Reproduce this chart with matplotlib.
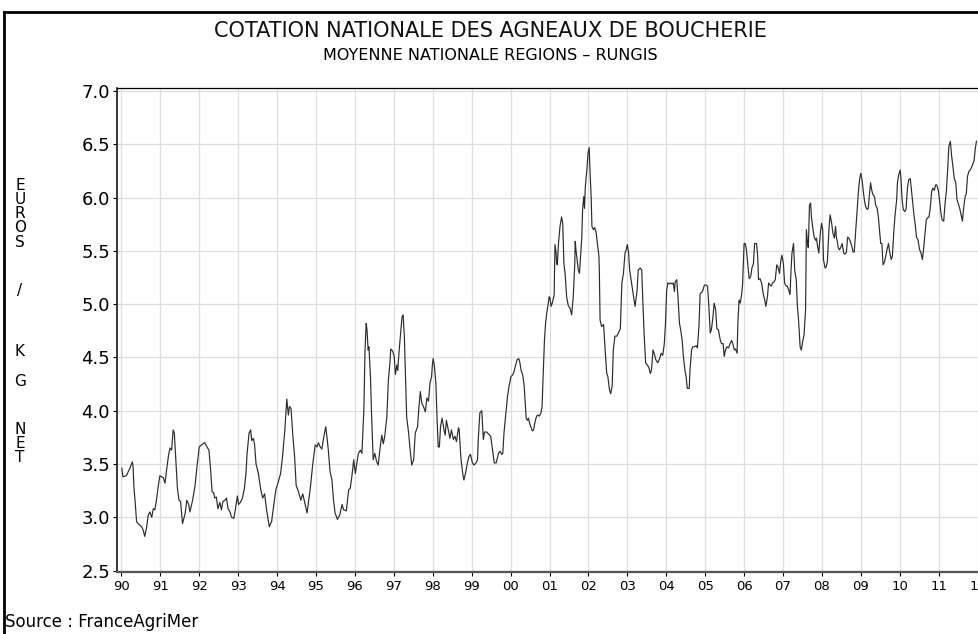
import matplotlib
matplotlib.use("Agg")
import matplotlib.pyplot as plt
from matplotlib.lines import Line2D

# weekly national quotation: decimal year -> EUR / kg net
dates = [
    1990.01, 1990.04, 1990.13, 1990.19, 1990.22, 1990.26, 1990.28, 1990.30, 1990.32, 1990.35,
    1990.39, 1990.43, 1990.52, 1990.56, 1990.60, 1990.65, 1990.69, 1990.73, 1990.78, 1990.82,
    1990.86, 1990.90, 1990.95, 1990.99, 1991.03, 1991.08, 1991.12, 1991.16, 1991.21, 1991.25,
    1991.29, 1991.33, 1991.36, 1991.39, 1991.44, 1991.48, 1991.52, 1991.57, 1991.64, 1991.68,
    1991.73, 1991.76, 1991.83, 1991.89, 1991.95, 1992.00, 1992.06, 1992.14, 1992.20, 1992.25,
    1992.30, 1992.33, 1992.37, 1992.40, 1992.44, 1992.48, 1992.53, 1992.57, 1992.61, 1992.66,
    1992.70, 1992.74, 1992.79, 1992.83, 1992.89, 1992.94, 1992.98, 1993.01, 1993.06, 1993.11,
    1993.16, 1993.20, 1993.23, 1993.28, 1993.32, 1993.35, 1993.39, 1993.42, 1993.46, 1993.52,
    1993.58, 1993.63, 1993.68, 1993.73, 1993.80, 1993.86, 1993.92, 1993.97, 1994.03, 1994.09,
    1994.14, 1994.20, 1994.25, 1994.29, 1994.32, 1994.36, 1994.40, 1994.45, 1994.49, 1994.55,
    1994.61, 1994.66, 1994.72, 1994.77, 1994.85, 1994.92, 1994.98, 1995.03, 1995.06, 1995.11,
    1995.15, 1995.19, 1995.25, 1995.28, 1995.32, 1995.36, 1995.41, 1995.45, 1995.49, 1995.55,
    1995.61, 1995.67, 1995.71, 1995.78, 1995.84, 1995.88, 1995.92, 1995.97, 1996.01, 1996.05,
    1996.09, 1996.14, 1996.18, 1996.23, 1996.26, 1996.29, 1996.31, 1996.34, 1996.36, 1996.40,
    1996.43, 1996.47, 1996.51, 1996.56, 1996.60, 1996.64, 1996.69, 1996.73, 1996.77, 1996.82,
    1996.86, 1996.90, 1996.92, 1996.97, 1997.01, 1997.04, 1997.08, 1997.10, 1997.14, 1997.19,
    1997.21, 1997.24, 1997.27, 1997.30, 1997.33, 1997.38, 1997.42, 1997.46, 1997.51, 1997.55,
    1997.61, 1997.64, 1997.68, 1997.72, 1997.76, 1997.81, 1997.85, 1997.89, 1997.93, 1997.97,
    1997.99, 1998.01, 1998.04, 1998.08, 1998.11, 1998.14, 1998.17, 1998.20, 1998.24, 1998.29,
    1998.32, 1998.35, 1998.40, 1998.44, 1998.48, 1998.53, 1998.57, 1998.61, 1998.66, 1998.68,
    1998.72, 1998.77, 1998.80, 1998.84, 1998.89, 1998.93, 1998.97, 1999.02, 1999.06, 1999.11,
    1999.15, 1999.17, 1999.21, 1999.26, 1999.30, 1999.33, 1999.39, 1999.46, 1999.49, 1999.53,
    1999.58, 1999.63, 1999.69, 1999.73, 1999.77, 1999.80, 1999.83, 1999.88, 1999.92, 1999.96,
    2000.01, 2000.06, 2000.09, 2000.13, 2000.17, 2000.21, 2000.24, 2000.27, 2000.31, 2000.35,
    2000.38, 2000.40, 2000.43, 2000.46, 2000.49, 2000.52, 2000.56, 2000.59, 2000.62, 2000.66,
    2000.69, 2000.74, 2000.78, 2000.81, 2000.83, 2000.87, 2000.90, 2000.93, 2000.97, 2000.99,
    2001.01, 2001.04, 2001.07, 2001.09, 2001.12, 2001.14, 2001.17, 2001.18, 2001.20, 2001.23,
    2001.27, 2001.31, 2001.34, 2001.37, 2001.40, 2001.44, 2001.48, 2001.53, 2001.57, 2001.61,
    2001.65, 2001.66, 2001.68, 2001.72, 2001.74, 2001.77, 2001.81, 2001.83, 2001.85, 2001.88,
    2001.90, 2001.92, 2001.96, 2001.99, 2002.02, 2002.04, 2002.07, 2002.09, 2002.13, 2002.16,
    2002.20, 2002.23, 2002.27, 2002.28, 2002.30, 2002.34, 2002.39, 2002.43, 2002.47, 2002.50,
    2002.54, 2002.57, 2002.61, 2002.64, 2002.68, 2002.73, 2002.77, 2002.82, 2002.86, 2002.90,
    2002.94, 2002.97, 2003.00, 2003.03, 2003.06, 2003.12, 2003.16, 2003.20, 2003.25, 2003.28,
    2003.33, 2003.37, 2003.40, 2003.43, 2003.47, 2003.51, 2003.55, 2003.59, 2003.62, 2003.66,
    2003.69, 2003.73, 2003.78, 2003.82, 2003.87, 2003.91, 2003.95, 2003.98, 2004.01, 2004.04,
    2004.08, 2004.11, 2004.15, 2004.18, 2004.21, 2004.23, 2004.27, 2004.30, 2004.34, 2004.37,
    2004.41, 2004.44, 2004.48, 2004.51, 2004.54, 2004.59, 2004.61, 2004.65, 2004.68, 2004.72,
    2004.77, 2004.80, 2004.84, 2004.87, 2004.91, 2004.94, 2004.98, 2005.02, 2005.06, 2005.09,
    2005.13, 2005.16, 2005.20, 2005.23, 2005.27, 2005.30, 2005.34, 2005.39, 2005.42, 2005.46,
    2005.49, 2005.52, 2005.56, 2005.60, 2005.64, 2005.68, 2005.71, 2005.75, 2005.78, 2005.82,
    2005.84, 2005.87, 2005.90, 2005.94, 2005.96, 2006.00, 2006.03, 2006.06, 2006.10, 2006.13,
    2006.17, 2006.20, 2006.24, 2006.27, 2006.32, 2006.35, 2006.37, 2006.41, 2006.45, 2006.49,
    2006.53, 2006.56, 2006.60, 2006.63, 2006.67, 2006.70, 2006.73, 2006.77, 2006.80, 2006.84,
    2006.87, 2006.91, 2006.94, 2006.97, 2007.01, 2007.04, 2007.08, 2007.11, 2007.15, 2007.18,
    2007.21, 2007.23, 2007.27, 2007.30, 2007.34, 2007.37, 2007.40, 2007.44, 2007.47, 2007.51,
    2007.54, 2007.58, 2007.60, 2007.63, 2007.65, 2007.68, 2007.71, 2007.73, 2007.76, 2007.80,
    2007.84, 2007.86, 2007.89, 2007.92, 2007.96, 2007.99, 2008.02, 2008.04, 2008.08, 2008.11,
    2008.14, 2008.18, 2008.21, 2008.25, 2008.28, 2008.32, 2008.35, 2008.37, 2008.39, 2008.42,
    2008.45, 2008.49, 2008.52, 2008.56, 2008.59, 2008.63, 2008.66, 2008.69, 2008.73, 2008.77,
    2008.80, 2008.83, 2008.87, 2008.90, 2008.94, 2008.97, 2009.00, 2009.03, 2009.06, 2009.09,
    2009.12, 2009.16, 2009.19, 2009.23, 2009.25, 2009.28, 2009.31, 2009.35, 2009.38, 2009.42,
    2009.45, 2009.48, 2009.51, 2009.54, 2009.57, 2009.61, 2009.64, 2009.67, 2009.71, 2009.74,
    2009.78, 2009.81, 2009.85, 2009.88, 2009.92, 2009.94, 2009.97, 2010.01, 2010.03, 2010.06,
    2010.09, 2010.13, 2010.16, 2010.20, 2010.23, 2010.27, 2010.30, 2010.33, 2010.37, 2010.40,
    2010.43, 2010.47, 2010.51, 2010.54, 2010.58, 2010.61, 2010.65, 2010.68, 2010.71, 2010.75,
    2010.78, 2010.82, 2010.85, 2010.89, 2010.92, 2010.95, 2010.99, 2011.02, 2011.06, 2011.09,
    2011.13, 2011.16, 2011.20, 2011.23, 2011.26, 2011.30, 2011.33, 2011.37, 2011.40, 2011.44,
    2011.47, 2011.50, 2011.54, 2011.57, 2011.61, 2011.64, 2011.68, 2011.71, 2011.74, 2011.78,
    2011.81, 2011.85, 2011.88, 2011.91, 2011.94, 2011.97,
]
prices = [
    3.46, 3.38, 3.39, 3.44, 3.46, 3.50, 3.52, 3.48, 3.29, 3.16,
    2.96, 2.94, 2.91, 2.88, 2.82, 2.91, 3.02, 3.05, 3.00, 3.08,
    3.07, 3.16, 3.30, 3.39, 3.38, 3.37, 3.32, 3.44, 3.58, 3.65,
    3.63, 3.82, 3.79, 3.60, 3.27, 3.16, 3.15, 2.94, 3.04, 3.16,
    3.12, 3.05, 3.16, 3.29, 3.50, 3.66, 3.68, 3.70, 3.66, 3.63,
    3.41, 3.24, 3.23, 3.18, 3.19, 3.08, 3.14, 3.07, 3.15, 3.16,
    3.18, 3.08, 3.05, 3.00, 2.99, 3.10, 3.20, 3.12, 3.14, 3.18,
    3.27, 3.41, 3.60, 3.79, 3.82, 3.72, 3.74, 3.69, 3.50, 3.41,
    3.26, 3.18, 3.22, 3.07, 2.91, 2.96, 3.13, 3.26, 3.33, 3.41,
    3.57, 3.82, 4.11, 3.96, 4.04, 4.02, 3.79, 3.57, 3.30, 3.24,
    3.16, 3.22, 3.12, 3.04, 3.26, 3.51, 3.68, 3.66, 3.70, 3.66,
    3.64, 3.73, 3.85, 3.76, 3.62, 3.43, 3.35, 3.16, 3.04, 2.98,
    3.02, 3.12, 3.07, 3.06, 3.26, 3.27, 3.38, 3.54, 3.41, 3.51,
    3.60, 3.63, 3.60, 4.01, 4.57, 4.82, 4.76, 4.57, 4.60, 4.32,
    3.94, 3.54, 3.60, 3.52, 3.49, 3.63, 3.77, 3.69, 3.77, 3.94,
    4.29, 4.45, 4.58, 4.56, 4.51, 4.34, 4.43, 4.38, 4.58, 4.79,
    4.88, 4.90, 4.70, 4.32, 3.94, 3.79, 3.63, 3.49, 3.54, 3.79,
    3.85, 4.01, 4.18, 4.07, 4.04, 3.99, 4.12, 4.09, 4.26, 4.32,
    4.43, 4.49, 4.43, 4.26, 3.94, 3.66, 3.66, 3.85, 3.93, 3.82,
    3.77, 3.91, 3.82, 3.74, 3.82, 3.73, 3.76, 3.71, 3.84, 3.82,
    3.57, 3.41, 3.35, 3.41, 3.51, 3.57, 3.59, 3.51, 3.49, 3.51,
    3.54, 3.73, 3.98, 4.00, 3.73, 3.80, 3.80, 3.77, 3.76, 3.65,
    3.51, 3.51, 3.60, 3.62, 3.59, 3.60, 3.79, 3.98, 4.13, 4.23,
    4.32, 4.34, 4.37, 4.43, 4.48, 4.49, 4.45, 4.38, 4.34, 4.23,
    4.04, 3.93, 3.91, 3.93, 3.88, 3.85, 3.81, 3.82, 3.88, 3.94,
    3.96, 3.95, 3.98, 4.04, 4.26, 4.66, 4.82, 4.92, 5.01, 5.07,
    5.06, 4.98, 5.01, 5.04, 5.09, 5.56, 5.48, 5.40, 5.37, 5.57,
    5.73, 5.82, 5.76, 5.38, 5.29, 5.07, 4.99, 4.96, 4.90, 5.07,
    5.38, 5.59, 5.51, 5.38, 5.32, 5.29, 5.51, 5.63, 5.89, 6.01,
    5.90, 6.10, 6.26, 6.42, 6.47, 6.26, 6.01, 5.73, 5.70, 5.72,
    5.67, 5.57, 5.45, 5.32, 4.85, 4.79, 4.81, 4.57, 4.35, 4.32,
    4.20, 4.16, 4.23, 4.57, 4.70, 4.70, 4.73, 4.77, 5.20, 5.29,
    5.48, 5.51, 5.56, 5.49, 5.32, 5.17, 5.07, 4.98, 5.13, 5.32,
    5.34, 5.32, 5.01, 4.73, 4.45, 4.43, 4.41, 4.35, 4.38, 4.57,
    4.54, 4.48, 4.45, 4.48, 4.54, 4.52, 4.63, 4.82, 5.13, 5.20,
    5.19, 5.20, 5.19, 5.20, 5.12, 5.21, 5.23, 5.07, 4.82, 4.76,
    4.66, 4.51, 4.38, 4.32, 4.21, 4.21, 4.38, 4.57, 4.60, 4.60,
    4.61, 4.59, 4.79, 5.10, 5.11, 5.13, 5.18, 5.18, 5.17, 5.01,
    4.73, 4.76, 4.88, 5.01, 4.95, 4.77, 4.76, 4.66, 4.63, 4.63,
    4.51, 4.57, 4.60, 4.59, 4.63, 4.66, 4.63, 4.57, 4.58, 4.54,
    4.82, 5.04, 5.01, 5.10, 5.18, 5.57, 5.57, 5.51, 5.35, 5.24,
    5.26, 5.34, 5.38, 5.57, 5.57, 5.45, 5.23, 5.24, 5.20, 5.10,
    5.04, 4.98, 5.07, 5.20, 5.18, 5.17, 5.20, 5.21, 5.23, 5.37,
    5.35, 5.29, 5.40, 5.46, 5.38, 5.20, 5.17, 5.17, 5.13, 5.09,
    5.35, 5.48, 5.57, 5.32, 5.23, 4.98, 4.85, 4.60, 4.57, 4.66,
    4.71, 4.95, 5.70, 5.57, 5.53, 5.93, 5.95, 5.82, 5.73, 5.63,
    5.60, 5.62, 5.54, 5.48, 5.67, 5.76, 5.70, 5.42, 5.34, 5.35,
    5.40, 5.70, 5.84, 5.76, 5.67, 5.62, 5.73, 5.63, 5.60, 5.53,
    5.51, 5.54, 5.57, 5.48, 5.47, 5.49, 5.63, 5.62, 5.59, 5.54,
    5.49, 5.49, 5.70, 5.85, 6.07, 6.18, 6.23, 6.17, 6.07, 5.98,
    5.92, 5.89, 5.90, 6.07, 6.14, 6.07, 6.03, 6.01, 5.93, 5.90,
    5.82, 5.70, 5.57, 5.57, 5.37, 5.40, 5.45, 5.51, 5.57, 5.49,
    5.42, 5.45, 5.70, 5.84, 5.98, 6.14, 6.21, 6.26, 6.18, 5.98,
    5.89, 5.87, 5.89, 6.10, 6.17, 6.18, 6.07, 5.95, 5.82, 5.74,
    5.63, 5.60, 5.51, 5.49, 5.42, 5.51, 5.67, 5.79, 5.81, 5.82,
    5.89, 6.06, 6.09, 6.07, 6.12, 6.12, 6.07, 5.98, 5.85, 5.79,
    5.78, 5.93, 6.07, 6.26, 6.48, 6.53, 6.40, 6.28, 6.18, 6.14,
    5.98, 5.95, 5.90, 5.85, 5.78, 5.90, 6.01, 6.04, 6.20, 6.25,
    6.26, 6.29, 6.32, 6.35, 6.46, 6.53,
]

year_ticks = list(range(1990, 2013))
year_labels = [f"{y % 100:02d}" for y in year_ticks]
price_ticks = [2.5, 3.0, 3.5, 4.0, 4.5, 5.0, 5.5, 6.0, 6.5, 7.0]
ylabel_letters = ["E", "U", "R", "O", "S", "/", "K", "G", "N", "E", "T"]
ylabel_rows = [186, 200, 214, 228, 242, 290, 352, 381, 430, 444, 458]   # pixel rows

W, H = 979, 634
fig = plt.figure(figsize=(W / 100, H / 100), dpi=100)
ax = fig.add_axes([117 / W, 1 - 572 / H, (985 - 117) / W, (572 - 88) / H])

ax.plot(dates, prices, color="#2b2b2b", lw=0.85)
ax.set_xlim(1989.887, 2012.19)
ax.set_ylim(2.486, 7.03)

ax.set_xticks(year_ticks)
ax.set_xticklabels(year_labels)
ax.set_yticks(price_ticks)
ax.set_yticklabels([f"{v:.1f}" for v in price_ticks])
ax.tick_params(axis="y", labelsize=13, length=3, pad=2, colors="black")
ax.tick_params(axis="x", labelsize=9.5, length=3, pad=3, colors="black")
ax.grid(True, color="#dedede", lw=0.9)
ax.set_axisbelow(True)

ax.spines["top"].set_linewidth(0.9)
ax.spines["right"].set_visible(False)
ax.spines["left"].set_linewidth(1.1)
ax.spines["bottom"].set_linewidth(1.6)
ax.spines["bottom"].set_color("#555555")

# outer frame of the original export
fig.add_artist(Line2D([3.5 / W, 3.5 / W], [0, 1 - 12 / H], transform=fig.transFigure,
                      color="black", lw=2))
fig.add_artist(Line2D([3.5 / W, 1], [1 - 12 / H, 1 - 12 / H], transform=fig.transFigure,
                      color="black", lw=2))

title_font = ["Liberation Sans Narrow", "DejaVu Sans"]
fig.text(490 / W, 1 - 31 / H, "COTATION NATIONALE DES AGNEAUX DE BOUCHERIE",
         ha="center", va="center", fontsize=15, family=title_font, color="#111111")
fig.text(490 / W, 1 - 56 / H, "MOYENNE NATIONALE REGIONS \u2013 RUNGIS",
         ha="center", va="center", fontsize=11.5, family=title_font)

for letter, row in zip(ylabel_letters, ylabel_rows):
    fig.text(20 / W, 1 - row / H, letter, ha="center", va="center", fontsize=11)

fig.text(5 / W, 1 - 622 / H, "Source : FranceAgriMer", ha="left", va="center", fontsize=12)

fig.savefig("out.png", dpi=100)
